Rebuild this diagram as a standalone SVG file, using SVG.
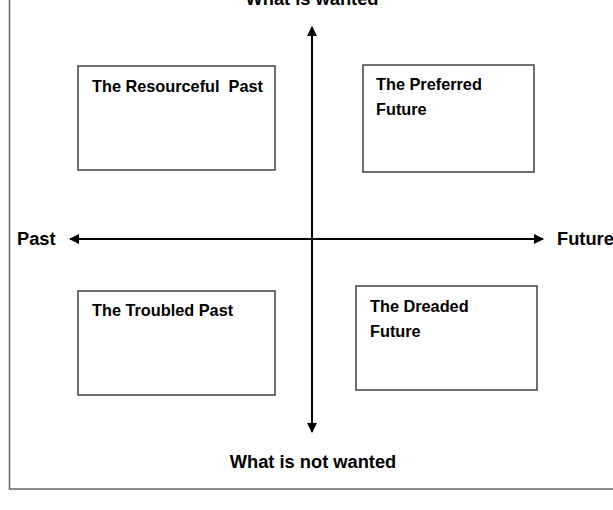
<svg xmlns="http://www.w3.org/2000/svg" width="613" height="510" viewBox="0 0 613 510">
<style>
text{font-family:"Liberation Sans",Arial,sans-serif;font-weight:bold;font-size:16.3px;fill:#000;white-space:pre}
.ax{font-size:18.3px}
.box{fill:#fff;stroke:#333;stroke-width:1.4}
.axis{stroke:#000;stroke-width:2;fill:none}
</style>
<defs>
<marker id="ah" viewBox="0 0 10 10" refX="9" refY="5" markerWidth="11" markerHeight="10" markerUnits="userSpaceOnUse" orient="auto-start-reverse">
<path d="M0,0 L10,5 L0,10 z" fill="#000"/>
</marker>
</defs>
<rect x="0" y="0" width="613" height="510" fill="#fff"/>
<g id="frame"><path d="M9.5,-5 V489 H620" fill="none" stroke="#666" stroke-width="1.5"/></g>
<g id="connectors">
<line class="axis" x1="312" y1="432" x2="312" y2="27" marker-end="url(#ah)"/>
<line class="axis" x1="312" y1="239" x2="312" y2="432" marker-end="url(#ah)"/>
<line class="axis" x1="70" y1="239" x2="543" y2="239" marker-start="url(#ah)" marker-end="url(#ah)"/>
</g>
<g id="label-top"><text class="ax" x="312" y="5" text-anchor="middle">What is wanted</text></g>
<g id="label-bottom"><text class="ax" x="313" y="468" text-anchor="middle">What is not wanted</text></g>
<g id="label-past"><text class="ax" x="17" y="245">Past</text></g>
<g id="label-future"><text class="ax" x="557" y="245">Future</text></g>
<g id="resourceful-past">
<rect class="box" x="78" y="66" width="197" height="104"/>
<text x="92" y="92" xml:space="preserve">The Resourceful  Past</text>
</g>
<g id="preferred-future">
<rect class="box" x="363" y="65" width="171" height="107"/>
<text x="376" y="90">The Preferred</text>
<text x="376" y="115">Future</text>
</g>
<g id="troubled-past">
<rect class="box" x="78" y="291" width="197" height="104"/>
<text x="92" y="316">The Troubled Past</text>
</g>
<g id="dreaded-future">
<rect class="box" x="356" y="286" width="181" height="104"/>
<text x="370" y="312">The Dreaded</text>
<text x="370" y="337">Future</text>
</g>
</svg>
